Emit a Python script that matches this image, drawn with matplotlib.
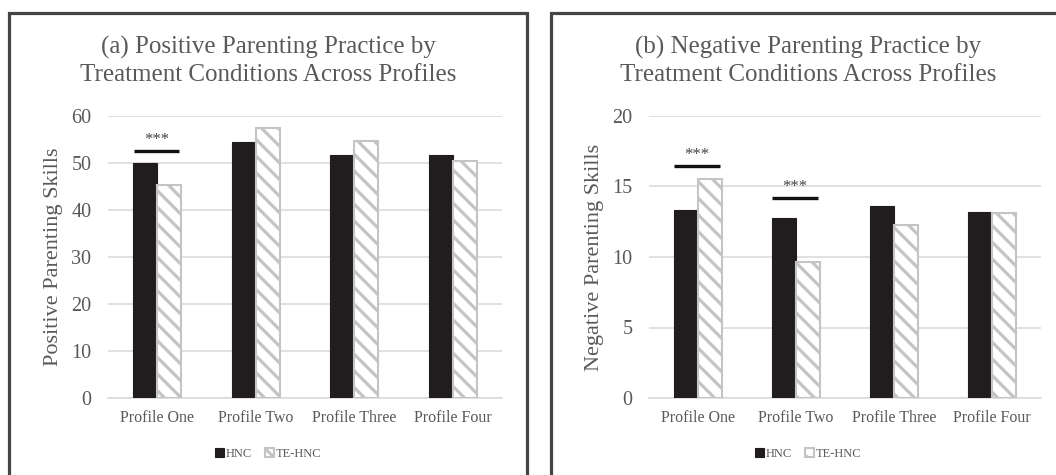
import numpy as np
import matplotlib.pyplot as plt
from matplotlib.patches import Rectangle

# ---------------- datos ----------------
perfiles = ['Profile One', 'Profile Two', 'Profile Three', 'Profile Four']
grupos = ['HNC', 'TE-HNC']

pos_hnc = [50.0, 54.4, 51.6, 51.7]
pos_te = [45.3, 57.5, 54.7, 50.4]

neg_hnc = [13.3, 12.8, 13.65, 13.2]
neg_te = [15.5, 9.65, 12.25, 13.1]

# (perfil, altura de la barra de significancia)
sig_pos = [(0, 52.6)]
sig_neg = [(0, 16.45), (1, 14.2)]

titulos = ['(a) Positive Parenting Practice by\nTreatment Conditions Across Profiles',
           '(b) Negative Parenting Practice by\nTreatment Conditions Across Profiles']
ylabels = ['Positive Parenting Skills', 'Negative Parenting Skills']

# ---------------- estilo ----------------
plt.rcParams['font.family'] = ['Liberation Serif', 'DejaVu Serif']
plt.rcParams['hatch.linewidth'] = 2.3
gris_txt = '#595959'
gris_grid = '#d9d9d9'
gris_hatch = '#c4c4c4'
negro_bar = '#211d1e'

W, H = 1056, 475
fig = plt.figure(figsize=(W / 100, H / 100), dpi=100)

def fx(px):
    return px / W

def fy(py):
    return 1 - py / H

# marcos de cada panel
for x0, x1 in [(8.5, 527), (550.5, 1070)]:
    fig.add_artist(Rectangle((fx(x0), fy(490)), fx(x1 - x0), (490 - 12.5) / H,
                             transform=fig.transFigure, fill=False,
                             edgecolor='#454545', linewidth=2.3, clip_on=False))

ejes = [fig.add_axes([fx(108), fy(398), fx(502 - 108), (398 - 116) / H]),
        fig.add_axes([fx(649), fy(398), fx(1041 - 649), (398 - 116) / H])]

datos = [(pos_hnc, pos_te, 60, 10, sig_pos), (neg_hnc, neg_te, 20, 5, sig_neg)]
centros = [268, 808]
ylab_x = [54, 594]

x = np.arange(len(perfiles))
w = 0.245

for i, ax in enumerate(ejes):
    hnc, te, ymax, paso, sigs = datos[i]
    ax.bar(x - w / 2, hnc, w, color=negro_bar, edgecolor=negro_bar, linewidth=0.8,
           label=grupos[0], zorder=3)
    ax.bar(x + w / 2, te, w, color='white', edgecolor=gris_hatch, hatch='\\\\',
           linewidth=1.5, label=grupos[1], zorder=3)

    ax.set_xlim(-0.5, 3.5)
    ax.set_ylim(0, ymax)
    ax.set_yticks(np.arange(0, ymax + 0.1, paso))
    ax.yaxis.grid(True, color=gris_grid, linewidth=1.1)
    ax.set_axisbelow(True)
    for s in ['top', 'right', 'left']:
        ax.spines[s].set_visible(False)
    ax.spines['bottom'].set_color(gris_grid)
    ax.spines['bottom'].set_linewidth(1.1)
    ax.tick_params(length=0, colors=gris_txt)
    ax.tick_params(axis='y', labelsize=14.5, pad=12)
    ax.tick_params(axis='x', labelsize=11.5, pad=9)
    ax.set_xticks(x)
    ax.set_xticklabels(perfiles)

    # barras de significancia
    for g, yv in sigs:
        ax.plot([g - 0.24, g + 0.22], [yv, yv], color='#111111', linewidth=2.4,
                solid_capstyle='butt', zorder=4)
        ax.text(g - 0.01, yv + ymax * 0.025, '***', ha='center', va='baseline',
                fontsize=12, color='#444444')

    fig.text(fx(centros[i]), fy(61), titulos[i], ha='center', va='center',
             fontsize=18, color=gris_txt, linespacing=1.25)
    fig.text(fx(ylab_x[i]), fy(257), ylabels[i], rotation=90, ha='center',
             va='center', fontsize=16, color=gris_txt)

    h, l = ax.get_legend_handles_labels()
    fig.legend(h, l, loc='center', bbox_to_anchor=(fx(centros[i]), fy(454)),
               ncol=2, frameon=False, fontsize=9, labelcolor=gris_txt,
               handlelength=0.75, handleheight=0.75, handletextpad=0.15,
               columnspacing=1.0)

fig.savefig('out.png', dpi=100)
